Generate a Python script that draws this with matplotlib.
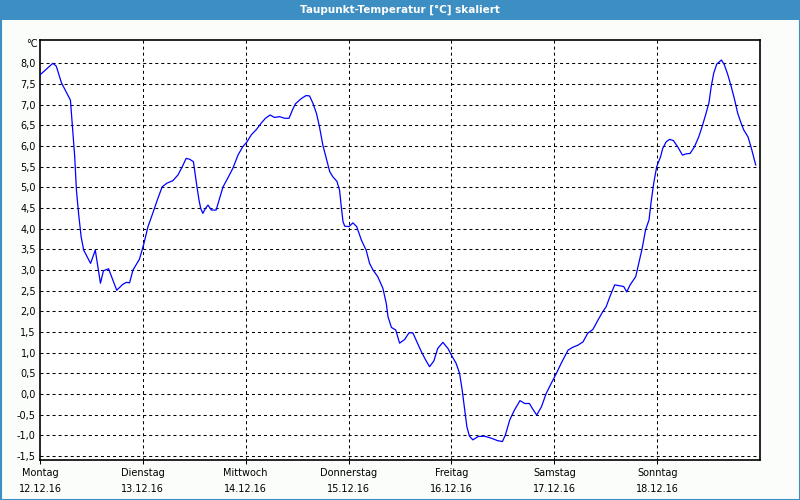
import matplotlib
matplotlib.use("Agg")
import matplotlib.pyplot as plt
from matplotlib.patches import Rectangle
import numpy as np

title = "Taupunkt-Temperatur [°C] skaliert"
unit = "°C"
day_names = ["Montag", "Dienstag", "Mittwoch", "Donnerstag", "Freitag", "Samstag", "Sonntag"]
day_dates = ["12.12.16", "13.12.16", "14.12.16", "15.12.16", "16.12.16", "17.12.16", "18.12.16"]

# hours since Monday 00:00
hours = [0.0, 3.0, 3.8, 5.0, 6.1, 7.1, 7.5, 8.1, 8.5, 9.0, 9.6, 10.2, 11.2, 11.8, 12.9, 13.5,
         14.1, 14.8, 16.0, 17.0, 17.9, 19.3, 20.1, 20.9, 21.7, 23.2, 24.2, 25.2, 26.3, 27.5,
         28.5, 29.6, 31.0, 32.2, 33.2, 34.1, 34.9, 35.8, 36.5, 37.1, 37.5, 38.0, 38.6, 39.2,
         40.0, 41.1, 41.9, 42.7, 43.8, 45.0, 46.2, 47.3, 48.3, 49.3, 50.5, 51.6, 52.6, 53.7,
         54.7, 55.9, 57.1, 58.1, 58.9, 59.6, 61.0, 62.1, 62.9, 63.7, 64.5, 65.2, 66.0, 66.8,
         67.6, 68.3, 69.3, 69.9, 70.3, 70.7, 71.1, 72.1, 73.0, 73.9, 75.0, 76.1, 76.9, 77.7,
         78.8, 80.0, 80.8, 81.2, 82.0, 83.0, 83.9, 85.1, 86.1, 87.0, 87.9, 89.0, 90.0, 90.9,
         91.9, 92.8, 94.0, 95.2, 96.0, 97.1, 97.9, 98.5, 99.1, 99.6, 100.2, 101.0, 102.2, 103.7,
         105.3, 106.8, 107.9, 108.6, 109.6, 110.7, 112.0, 113.1, 114.2, 115.0, 115.9, 117.0,
         118.1, 119.3, 120.5, 121.6, 123.2, 124.3, 125.5, 126.7, 127.8, 129.0, 130.2, 131.3,
         132.1, 133.1, 134.1, 135.2, 136.2, 136.9, 137.7, 139.0, 139.7, 140.5, 141.3, 142.1,
         142.6, 143.2, 143.9, 144.8, 145.3, 146.1, 146.9, 147.8, 148.8, 149.9, 150.8, 151.7,
         152.7, 153.7, 154.5, 155.3, 156.1, 156.6, 157.2, 157.9, 159.0, 159.7, 160.5, 161.3,
         162.1, 162.8, 163.6, 164.2, 165.2, 166.0, 167.0]
dewpoint = [7.72, 8.00, 7.93, 7.53, 7.31, 7.11, 6.55, 5.74, 4.93, 4.37, 3.80, 3.48, 3.28, 3.16, 3.48, 3.08,
            2.68, 2.98, 3.03, 2.76, 2.51, 2.65, 2.70, 2.69, 3.00, 3.26, 3.62, 4.05, 4.37, 4.73,
            5.01, 5.10, 5.16, 5.30, 5.50, 5.70, 5.68, 5.62, 5.10, 4.69, 4.49, 4.37, 4.49, 4.57,
            4.45, 4.45, 4.73, 5.01, 5.22, 5.46, 5.78, 5.98, 6.10, 6.27, 6.40, 6.55, 6.67, 6.75,
            6.69, 6.71, 6.67, 6.67, 6.87, 7.02, 7.15, 7.22, 7.21, 7.03, 6.79, 6.47, 6.02, 5.70,
            5.38, 5.26, 5.14, 4.93, 4.53, 4.17, 4.06, 4.05, 4.14, 4.05, 3.72, 3.48, 3.16, 3.00,
            2.84, 2.56, 2.19, 1.87, 1.61, 1.55, 1.23, 1.32, 1.48, 1.48, 1.27, 1.02, 0.82, 0.66,
            0.80, 1.10, 1.25, 1.10, 0.94, 0.74, 0.50, 0.10, -0.39, -0.79, -1.02, -1.11, -1.03, -1.02,
            -1.07, -1.13, -1.15, -0.99, -0.63, -0.39, -0.16, -0.23, -0.23, -0.37, -0.51, -0.31,
            0.01, 0.26, 0.50, 0.74, 1.06, 1.13, 1.18, 1.26, 1.47, 1.56, 1.79, 1.99,
            2.11, 2.39, 2.64, 2.62, 2.60, 2.47, 2.64, 2.84, 3.16, 3.52, 3.97, 4.21,
            4.65, 5.10, 5.50, 5.74, 5.94, 6.10, 6.16, 6.13, 5.98, 5.78, 5.81, 5.82,
            5.98, 6.22, 6.47, 6.75, 7.05, 7.43, 7.76, 7.98, 8.08, 7.96, 7.72, 7.43,
            7.11, 6.79, 6.55, 6.39, 6.22, 5.94, 5.54]

y_ticks = [-1.5 + 0.5 * i for i in range(20)]

FONT = "DejaVu Sans"
fig = plt.figure(figsize=(8, 5), dpi=100, facecolor="#fbfdfb")

# title bar and frame
bar_color = "#3d8fc3"
fig.patches.append(Rectangle((0, 1 - 20 / 500), 1, 20 / 500, transform=fig.transFigure,
                             facecolor=bar_color, edgecolor="none", zorder=0))
fig.patches.append(Rectangle((0.5 / 800, 0.5 / 500), 1 - 1 / 800, 1 - 1 / 500, transform=fig.transFigure,
                             facecolor="none", edgecolor=bar_color, lw=1.5, zorder=1))
fig.text(0.5, 1 - 10 / 500, title, color="white", ha="center", va="center",
         fontsize=7.5, fontweight="bold", family=FONT)

ax = fig.add_axes([40 / 800, 40 / 500, 720 / 800, 420 / 500])
ax.set_facecolor("white")
ax.plot(hours, dewpoint, color="#0000ff", lw=0.9, zorder=3)

ax.set_xlim(0, 168)
ax.set_ylim(-1.597, 8.564)

for v in y_ticks:
    ax.axhline(v, color="black", lw=0.75, ls=(0, (2.9, 2.9)), zorder=1)
for d in range(1, 7):
    ax.axvline(24 * d, color="black", lw=0.75, ls=(0, (2.9, 2.9)), zorder=1)

ax.set_yticks(y_ticks)
ax.set_yticklabels([f"{v:.1f}".replace(".", ",") for v in y_ticks], fontsize=7, family=FONT)
ax.tick_params(axis="y", length=0, pad=3)

ax.set_xticks([24 * d for d in range(7)])
ax.set_xticklabels([f"{n}\n{d}" for n, d in zip(day_names, day_dates)], fontsize=7,
                   family=FONT, linespacing=1.75)
ax.tick_params(axis="x", length=3, width=0.75, pad=3)

for s in ax.spines.values():
    s.set_linewidth(1.2)
    s.set_color("black")

fig.text(32 / 800, 1 - 44 / 500, unit, ha="center", va="center", fontsize=7, family=FONT)

fig.savefig("out.png", dpi=100, facecolor=fig.get_facecolor())
